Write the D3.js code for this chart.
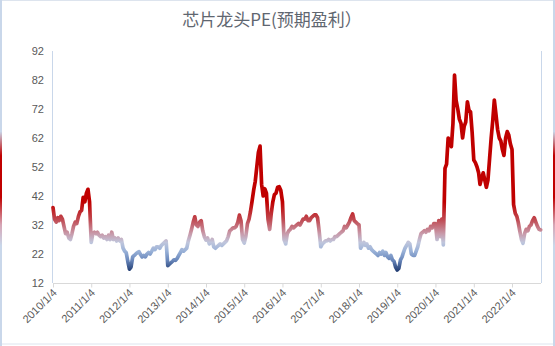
<!DOCTYPE html>
<html><head><meta charset="utf-8">
<script src="https://cdn.jsdelivr.net/npm/d3@7"></script>
<style>
html,body{margin:0;padding:0;background:#fff;}
svg{display:block;}
</style></head>
<body>
<svg id="chart" width="555" height="346"></svg>
<script>
const title = "芯片龙头PE(预期盈利）";
const yTicks = [12, 22, 32, 42, 52, 62, 72, 82, 92];
const tickLabels = ["2010/1/4","2011/1/4","2012/1/4","2013/1/4","2014/1/4","2015/1/4","2016/1/4","2017/1/4","2018/1/4","2019/1/4","2020/1/4","2021/1/4","2022/1/4"];
const startYear = 2010;
const sampleDays = [4, 19]; // two readings per month
const pe2010 = [38,34, 33,34.5, 33.5,35, 34,31.5, 29,29.5, 27.5,27, 29,31.5, 33,32.5, 35,36.5, 37,41.5, 40,43, 44.3,40];
const pe2011 = [26,29, 29.5,29, 29.5,28.5, 28,28.5, 27.5,28, 27,28.5, 27,29.5, 27,27.5, 26.5,27.5, 26.5,27, 24,23, 22.5,19.5];
const pe2012 = [16.8,17.5, 21,21.5, 22,22.5, 22.8,21.8, 21,21.5, 21,22, 22.5,22, 23,24, 23.5,24.5, 24.5,24, 25,25.5, 26,26.5];
const pe2013 = [18,18.5, 19,19.5, 20,19.8, 20.5,21.5, 22.5,23.5, 23,23.5, 24,26.5, 28.5,30.5, 33,34.8, 32,31.5, 33,33.5, 30,28];
const pe2014 = [26.8,27.5, 25.5,26, 27,24.5, 24,24.5, 25,25.5, 25,25.5, 26,26.5, 28,30, 30.5,31, 31,31.5, 33,35.4, 33.5,27];
const pe2015 = [25.8,28, 32.5,34, 36.5,40, 44,47, 52,57, 59.2,46, 42,44.5, 43,34, 30.5,36, 40,42.5, 43,45, 45.2,44];
const pe2016 = [40,27, 25.5,29, 30,30.5, 31.5,31, 31.5,32, 32.5,32, 33,34, 34,35, 33.5,33.5, 34.5,35, 35.5,35.5, 34.5,30];
const pe2017 = [24.5,25.5, 26,26.5, 26.5,27, 26.5,27, 27,28, 28,28.5, 29,29.5, 30,31.5, 31,32, 33,34.5, 35.8,33.5, 33,32.5];
const pe2018 = [32,24, 25,26, 25,25.5, 24,24.5, 23.5,23, 22.5,22, 21.5,22.5, 22,23, 21.5,22.5, 21,20.5, 21.5,20, 19.5,17.5];
const pe2019 = [16.5,17, 20,21, 22.5,24, 25,26, 25.5,22, 21.5,21.5, 23,24.5, 27,29, 29.5,30, 29.5,30.5, 30,31.5, 31,32.5];
const pe2020 = [32.5,27, 33.5,28, 34,25.1, 51.5,53, 62,61, 59,67, 83.7,75, 72,68.5, 67,62, 66,67.5, 74.5,71.5, 71,64];
const pe2021 = [54.4,53.5, 52,50, 46,48, 50,47.5, 45,47.5, 55,62, 68,75.1, 70,65, 62,61, 58,56, 62,64.2, 63,60];
const pe2022 = [58,39, 36,35, 33,30, 27,25.7, 29,30.5, 30,31.5, 32,33.5, 34.5,33, 31.5,30.5, 30.3];
const peByYear = [pe2010,pe2011,pe2012,pe2013,pe2014,pe2015,pe2016,pe2017,pe2018,pe2019,pe2020,pe2021,pe2022];

const data = [];
peByYear.forEach((arr, yi) => {
  arr.forEach((v, j) => {
    data.push({date: new Date(startYear + yi, Math.floor(j / 2), sampleDays[j % 2]), value: v});
  });
});

const svg = d3.select("#chart");
const parse = d3.timeParse("%Y/%m/%d");
const x = d3.scaleTime().domain([parse("2010/1/4"), parse("2023/1/4")]).range([53, 550.25]);
const y = d3.scaleLinear().domain([12, 92]).range([283, 51]);
const plotRight = 541;

const defs = svg.append("defs");
const lg = defs.append("linearGradient").attr("id","lineGrad")
  .attr("gradientUnits","userSpaceOnUse").attr("x1",0).attr("x2",0)
  .attr("y1", y(16)).attr("y2", y(42));
[[0,"#1f3a70"],[0.15,"#6a88bc"],[0.27,"#9ab2d8"],[0.385,"#c0c6dc"],[0.5,"#c89aaa"],[0.69,"#c04850"],[0.92,"#c00000"],[1,"#c00000"]]
  .forEach(([o,c]) => lg.append("stop").attr("offset",o).attr("stop-color",c));

const eg = defs.append("linearGradient").attr("id","edgeGrad").attr("x1",0).attr("x2",0).attr("y1",0).attr("y2",1);
[[0,"#c9d7ea"],[0.38,"#c9d7ea"],[0.45,"#c00000"],[0.57,"#c00000"],[0.65,"#d6a6b6"],[0.71,"#c9d7ea"],[1,"#c9d7ea"]]
  .forEach(([o,c]) => eg.append("stop").attr("offset",o).attr("stop-color",c));

// outer frame
svg.append("rect").attr("x",0.5).attr("y",0.5).attr("width",554).attr("height",343.5)
  .attr("fill","none").attr("stroke","#dde4ee");
svg.append("rect").attr("x",0).attr("y",0).attr("width",2).attr("height",346).attr("fill","url(#edgeGrad)");
svg.append("rect").attr("x",553).attr("y",0).attr("width",2).attr("height",346).attr("fill","url(#edgeGrad)");

// title
svg.append("text").attr("x",272).attr("y",26).attr("text-anchor","middle")
  .attr("font-family","'Noto Sans CJK SC', sans-serif").attr("font-size",17)
  .attr("fill","#5f6670").text(title);

// plot frame verticals
svg.append("line").attr("x1",52.5).attr("x2",52.5).attr("y1",51).attr("y2",283).attr("stroke","#c9d7ea");
svg.append("line").attr("x1",plotRight+0.5).attr("x2",plotRight+0.5).attr("y1",51).attr("y2",283).attr("stroke","#c9d7ea");

// y axis labels
const yAxis = d3.axisLeft(y).tickValues(yTicks).tickSize(0).tickPadding(0);
const gy = svg.append("g").attr("transform","translate(44,0)").call(yAxis);
gy.select(".domain").remove();
gy.selectAll("text").attr("font-family","'Liberation Sans', Arial, sans-serif").attr("font-size",11).attr("fill","#595959");

// x axis
const tickDates = tickLabels.map(s => parse(s));
const xAxis = d3.axisBottom(x).tickValues(tickDates).tickSize(4).tickFormat((d,i) => tickLabels[i]);
const gx = svg.append("g").attr("transform","translate(0,283.5)").call(xAxis);
gx.select(".domain").remove();
gx.append("line").attr("x1",53).attr("x2",plotRight).attr("y1",0).attr("y2",0).attr("stroke","#d9d9d9");
gx.selectAll(".tick line").attr("stroke","#d9d9d9");
gx.selectAll(".tick text")
  .attr("font-family","'Liberation Sans', Arial, sans-serif").attr("font-size",11).attr("fill","#595959")
  .attr("text-anchor","end").attr("dy",0).attr("y",0)
  .attr("transform","translate(4,10) rotate(-45)");

// line
const line = d3.line().x(d => x(d.date)).y(d => y(d.value)).curve(d3.curveLinear);
svg.append("path").datum(data).attr("d", line)
  .attr("fill","none").attr("stroke","url(#lineGrad)").attr("stroke-width",3.7)
  .attr("stroke-linejoin","round").attr("stroke-linecap","round");
</script>
</body></html>
